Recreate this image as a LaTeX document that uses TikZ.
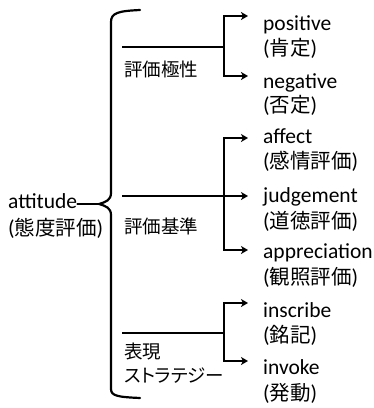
\documentclass[tikz,border=0pt]{standalone}
\usepackage{fontspec}
\setmainfont{Carlito}
\newfontfamily\jpf{Noto Sans CJK JP}
\newfontfamily\jpl[RawFeature=+palt]{Noto Sans CJK JP}
\usetikzlibrary{arrows.meta}
\newcommand\jj[1]{{\jpf\fontsize{20.5}{24}\selectfont #1}}
\begin{document}
\begin{tikzpicture}[x=1pt,y=-1pt,
  txt/.style={anchor=base west,inner sep=0pt,font=\fontsize{21.5}{25}\selectfont},
  lab/.style={anchor=base west,inner sep=0pt,font=\jpl\fontsize{18.5}{20}\selectfont},
  brace/.style={line width=2.2pt,line cap=round},
  grp/.style={line width=2.6pt},
  arr/.style={line width=2.4pt,-{Stealth[length=7pt,width=8pt,inset=2pt]}}]
\useasboundingbox (0,0) rectangle (374,408);
% left texts
\node[txt] (att) at (8,208) {attitude};
\node[txt] (attj) at (8,235) {(\jj{態度評価})};
% brace
\draw[brace] (140,10) .. controls (118,11) and (111,13) .. (111,22) -- (111,193)
  .. controls (111,200) and (106,202) .. (99,204) coordinate (tip)
  .. controls (106,206) and (111,208) .. (111,215) -- (111,389)
  .. controls (111,396) and (118,397) .. (140,398);
\draw[brace] (tip) -- (tip -| att.east);
% group labels
\node[lab] (l1) at (124,76) {評価極性};
\node[lab] (l2) at (124,233) {評価基準};
\node[lab] (l3a) at (124,358) {表現};
\node[lab] (l3b) at (124,382) {ストラテジー};
% right texts
\node[txt] (pos) at (263,30) {positive};
\node[txt] (posj) at (263,55) {(\jj{肯定})};
\node[txt] (neg) at (263,88) {negative};
\node[txt] (negj) at (263,112) {(\jj{否定})};
\node[txt] (aff) at (263,143) {affect};
\node[txt] (affj) at (263,168) {(\jj{感情評価})};
\node[txt] (jud) at (263,202) {judgement};
\node[txt] (judj) at (263,228) {(\jj{道徳評価})};
\node[txt] (app) at (263,258) {appreciation};
\node[txt] (appj) at (263,284) {(\jj{観照評価})};
\node[txt] (ins) at (263,317) {inscribe};
\node[txt] (insj) at (263,342) {(\jj{銘記})};
\node[txt] (inv) at (263,374) {invoke};
\node[txt] (invj) at (263,400) {(\jj{発動})};
% connectors
\coordinate (g1) at (122,47);  \coordinate (j1) at (224,47);
\coordinate (e1a) at (248,16); \coordinate (e1b) at (248,76);
\coordinate (g2) at (122,196); \coordinate (j2) at (224,196);
\coordinate (e2a) at (248,138); \coordinate (e2b) at (248,196); \coordinate (e2c) at (248,250);
\coordinate (g3) at (122,333); \coordinate (j3) at (224,333);
\coordinate (e3a) at (248,303); \coordinate (e3b) at (248,361);
\draw[grp] (g1) -- (j1);
\draw[arr] (j1) |- (e1a);
\draw[arr] (j1) |- (e1b);
\draw[grp] (g2) -- (j2);
\draw[arr] (j2) |- (e2a);
\draw[arr] (j2) -- (e2b);
\draw[arr] (j2) |- (e2c);
\draw[grp] (g3) -- (j3);
\draw[arr] (j3) |- (e3a);
\draw[arr] (j3) |- (e3b);
\end{tikzpicture}
\end{document}
